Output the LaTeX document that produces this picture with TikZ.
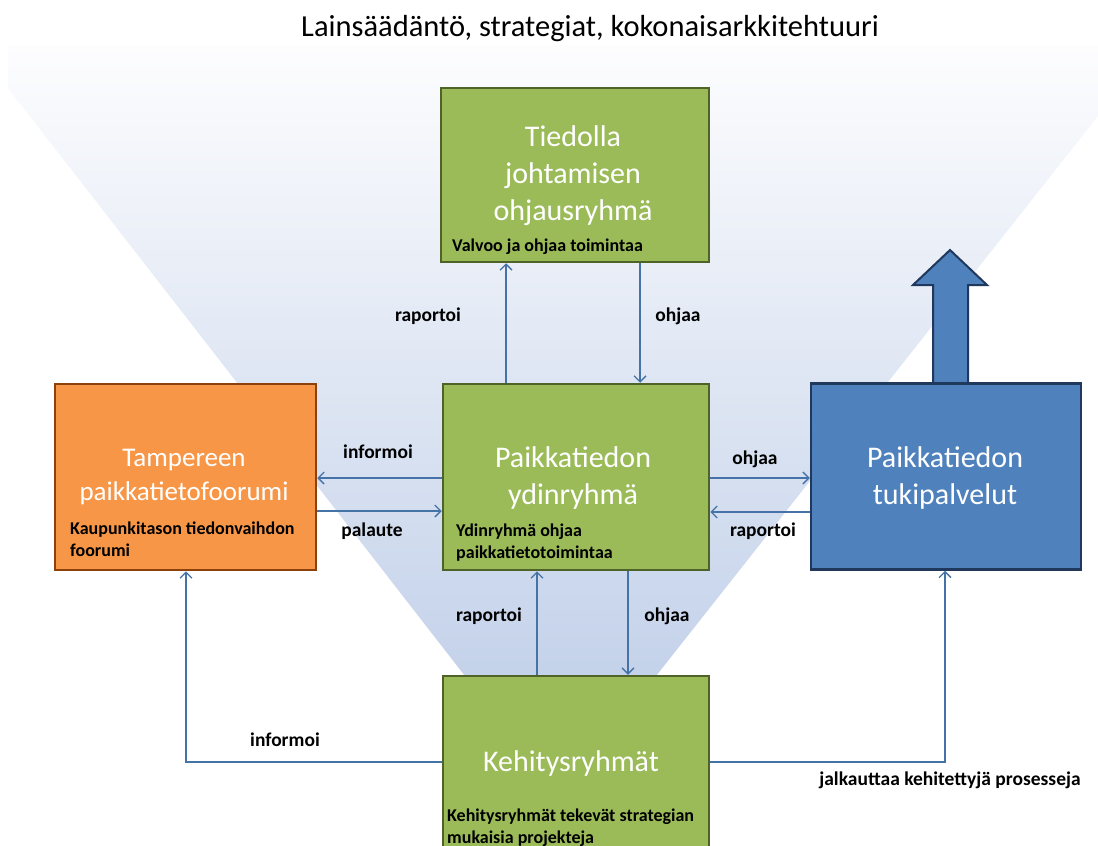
\documentclass[tikz,border=0pt]{standalone}
\usepackage{fontspec}
\setmainfont{Carlito}
\usetikzlibrary{arrows.meta}
\definecolor{boxGreen}{RGB}{155,187,89}
\definecolor{edgeGreen}{RGB}{79,98,40}
\definecolor{boxOrange}{RGB}{247,150,70}
\definecolor{edgeOrange}{RGB}{140,66,10}
\definecolor{boxBlue}{RGB}{79,129,189}
\definecolor{edgeBlue}{RGB}{31,56,92}
\definecolor{lineBlue}{RGB}{69,114,167}
\definecolor{funnelTop}{RGB}{253,253,254}
\definecolor{funnelMid}{RGB}{216,225,241}
\definecolor{funnelLow}{RGB}{196,210,234}

\begin{document}
\begin{tikzpicture}[x=1pt, y=-1pt,
    group/.style={draw=edgeGreen, fill=boxGreen, line width=2.5pt, minimum width=266pt, minimum height=186pt, inner sep=0pt},
    head/.style={text=white, font=\fontsize{30}{37}\selectfont, align=center},
    note/.style={font=\bfseries\fontsize{18}{22}\selectfont, align=left, anchor=base west, inner sep=0pt},
    flow/.style={lineBlue, line width=1.3pt, -{Straight Barb[length=6pt, width=12pt]}},
    tag/.style={font=\bfseries\fontsize{19.5}{22}\selectfont}]
  \clip (0,0) rectangle (1098,846);
  \fill[white] (0,0) rectangle (1098,846);
  % funnel behind everything
  \shade[top color=funnelTop, middle color=funnelMid, bottom color=funnelLow]
    (8,45) -- (8,88) -- (465,676) -- (656,676) -- (1154,45) -- cycle;
  \node[font=\fontsize{30.5}{34}\selectfont, anchor=base] (title) at (590,36) {Lainsäädäntö, strategiat, kokonaisarkkitehtuuri};

  % big arrow out of the support box
  \draw[edgeBlue, fill=boxBlue, line width=2pt]
    (933,386) -- (933,285) -- (913,285) -- (950,250) -- (987,285) -- (968,285) -- (968,386) -- cycle;

  % boxes
  \node[group, minimum width=268pt, minimum height=174pt] (steer) at (575,175) {};
  \node[group] (core) at (576,477) {};
  \node[group, draw=edgeOrange, fill=boxOrange, minimum width=261pt] (forum) at (185.5,477) {};
  \node[group, draw=edgeBlue, fill=boxBlue, minimum width=270pt] (support) at (946,476.5) {};
  \node[group, minimum height=180pt] (dev) at (576,766) {};

  \node[head] (steerhead) at (573,176) {Tiedolla\\johtamisen\\ohjausryhmä};
  \node[note] (steernote) at (452,251) {Valvoo ja ohjaa toimintaa};
  \node[head] (corehead) at (573,478) {Paikkatiedon\\ydinryhmä};
  \node[note] (corenote) at (456,558) {Ydinryhmä ohjaa\\paikkatietotoimintaa};
  \node[head, font=\fontsize{27}{34}\selectfont] (forumhead) at (184,477) {Tampereen\\paikkatietofoorumi};
  \node[note] (forumnote) at (70,556) {Kaupunkitason tiedonvaihdon\\foorumi};
  \node[head] (supporthead) at (945,478) {Paikkatiedon\\tukipalvelut};
  \node[head] (devhead) at (571,763) {Kehitysryhmät};
  \node[note] (devnote) at (447,843) {Kehitysryhmät tekevät strategian\\mukaisia projekteja};

  % connectors
  \draw[flow] (core.north -| 506,0) -- (steer.south -| 506,0);
  \draw[flow] (steer.south -| 640,0) -- (core.north -| 640,0);
  \draw[flow] (core.west |- 0,478) -- (forum.east |- 0,478);
  \draw[flow] (forum.east |- 0,511) -- (core.west |- 0,511);
  \draw[flow] (core.east |- 0,478) -- (support.west |- 0,478);
  \draw[flow] (support.west |- 0,512) -- (core.east |- 0,512);
  \draw[flow] (dev.north -| 537,0) -- (core.south -| 537,0);
  \draw[flow] (core.south -| 628,0) -- (dev.north -| 628,0);
  \draw[flow] (dev.west |- 0,762) -| (forum.south -| 186,0);
  \draw[flow] (dev.east |- 0,762) -| (support.south -| 945,0);

  % connector labels
  \node[tag] (upreport) at (428,316) {raportoi};
  \node[tag] (downsteer) at (678,316) {ohjaa};
  \node[tag] (leftinform) at (378,452) {informoi};
  \node[tag] (leftfeedback) at (372,531) {palaute};
  \node[tag] (rightsteer) at (755,459) {ohjaa};
  \node[tag] (rightreport) at (763,531) {raportoi};
  \node[tag] (lowreport) at (489,616) {raportoi};
  \node[tag] (lowsteer) at (667,616) {ohjaa};
  \node[tag] (devinform) at (285,740) {informoi};
  \node[tag] (devdeploy) at (950,780) {jalkauttaa kehitettyjä prosesseja};
\end{tikzpicture}
\end{document}
